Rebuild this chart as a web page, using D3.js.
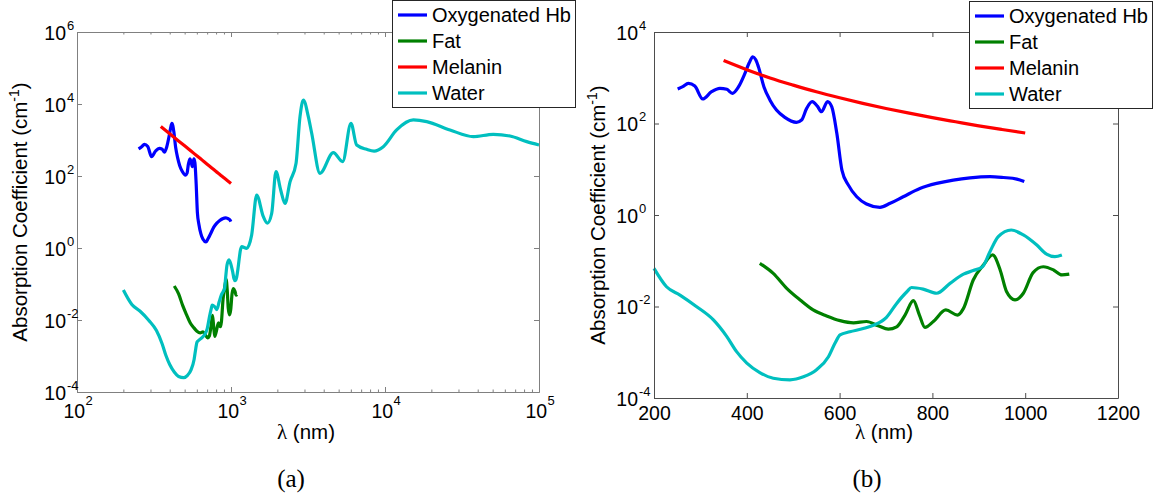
<!DOCTYPE html>
<html>
<head>
<meta charset="utf-8">
<script src="https://cdn.jsdelivr.net/npm/d3@7"></script>
<style>
  html, body { margin: 0; padding: 0; background: #fff; }
  svg { display: block; }
</style>
</head>
<body>
<svg id="chart" width="1165" height="499" style="font-family: 'Liberation Sans', Arial, sans-serif;"></svg>
<script>
// ---------------- DATA ----------------
const seriesNames = ["Oxygenated Hb", "Fat", "Melanin", "Water"];
const seriesColors = ["#0000ff", "#008000", "#ff0000", "#00bfbf"];

const hbWavelength = [251, 262, 274, 288, 305, 324, 342, 357, 369, 382, 396, 405, 413, 419, 425, 437, 450, 464, 482, 507, 518, 529, 541, 552, 561, 574, 583, 594, 605, 619, 637, 658, 687, 709, 737, 773, 809, 845, 881, 924, 953, 982, 998];
const hbAbsorption = [568, 640, 755, 660, 344, 495, 588, 558, 457, 631, 1250, 2100, 2880, 2500, 1740, 631, 324, 197, 136, 106, 119, 214, 300, 240, 181, 300, 233, 61, 9.6, 4.5, 2.5, 1.74, 1.47, 1.8, 2.5, 3.8, 4.9, 5.8, 6.5, 6.9, 6.6, 6.1, 5.4];

const fatWavelength = [428, 457, 486, 515, 543, 572, 601, 630, 658, 683, 705, 723, 741, 759, 772, 784, 802, 829, 854, 867, 888, 910, 930, 946, 960, 978, 996, 1017, 1039, 1061, 1079, 1095];
const fatAbsorption = [0.088, 0.053, 0.025, 0.0139, 0.0084, 0.0062, 0.0049, 0.0044, 0.0047, 0.0038, 0.0032, 0.0036, 0.0065, 0.0134, 0.0065, 0.0035, 0.0047, 0.0084, 0.0065, 0.0091, 0.038, 0.081, 0.134, 0.063, 0.021, 0.0139, 0.0195, 0.055, 0.074, 0.063, 0.049, 0.051];

const melaninWavelength = [350, 400, 450, 500, 550, 600, 650, 700, 750, 800, 850, 900, 950, 1000];
const melaninAbsorption = [2380, 1500, 990, 690, 493, 365, 276, 213, 168, 134, 109, 89, 74, 62];

const waterWavelength = [200, 227, 256, 292, 328, 357, 378, 400, 428, 457, 493, 522, 551, 576, 590, 601, 622, 651, 673, 701, 723, 745, 755, 780, 809, 838, 867, 888, 908, 924, 942, 970, 996, 1025, 1046, 1064, 1079,
  1172, 1265, 1362, 1468, 1622, 1722, 1837, 1959, 2102, 2244, 2417, 2643, 2806, 2950, 3177, 3342, 3784, 4620, 5309, 6012, 6546, 7600, 8500, 9750, 11900, 15280, 18660, 26430, 37450, 50470, 64830, 83250, 100000];
const waterAbsorption = [0.068, 0.027, 0.0178, 0.0099, 0.0051, 0.0022, 0.00103, 0.00058, 0.00036, 0.00027, 0.00025, 0.00029, 0.00042, 0.0008, 0.00157, 0.0024, 0.0028, 0.0033, 0.0039, 0.0058, 0.0117, 0.021, 0.026, 0.024, 0.0195, 0.032, 0.051, 0.061, 0.074, 0.158, 0.336, 0.47, 0.366, 0.22, 0.14, 0.123, 0.134,
  1.09, 0.98, 2.3, 29.5, 7.4, 4.9, 9.1, 132, 41, 17.4, 69, 224, 4470, 12900, 4470, 1535, 119, 445, 251, 2910, 726, 550, 490, 652, 1900, 3600, 3240, 1900, 1240, 1440, 1290, 900, 726];

// tick values
const leftXMajorTicks = [1e2, 1e3, 1e4, 1e5];
const leftXMinorTicks = [2,3,4,5,6,7,8,9].flatMap(m => [1e2, 1e3, 1e4].map(d => m * d));
const leftYTicks = [1e-4, 1e-2, 1e0, 1e2, 1e4, 1e6];
const rightXTicks = [200, 400, 600, 800, 1000, 1200];
const rightYTicks = [1e-4, 1e-2, 1e0, 1e2, 1e4];
const rightWaterMaxWavelength = 1080;

// ---------------- DRAWING ----------------
const SANS = "'Liberation Sans', Arial, sans-serif";
const SERIF = "'Liberation Serif', 'Times New Roman', serif";
const svg = d3.select("#chart");
svg.append("rect").attr("width", 1165).attr("height", 499).attr("fill", "#fff");

const seriesData = [
  d3.zip(hbWavelength, hbAbsorption),
  d3.zip(fatWavelength, fatAbsorption),
  d3.zip(melaninWavelength, melaninAbsorption),
  d3.zip(waterWavelength, waterAbsorption)
];

function txt(parent) {
  return parent.append("text").style("font-family", SANS).attr("fill", "#000");
}

function drawPanel(cfg) {
  const g = svg.append("g");
  const x = cfg.x, y = cfg.y;
  const [xLeft, xRight] = x.range();
  const [yBottom, yTop] = y.range();

  const line = d3.line().x(d => x(d[0])).y(d => y(d[1])).curve(d3.curveMonotoneX);
  seriesData.forEach((data, i) => {
    const pts = data.filter(d => d[0] >= x.domain()[0] && d[0] <= cfg.maxX[i]);
    g.append("path")
      .attr("d", line(pts))
      .attr("fill", "none")
      .attr("stroke", seriesColors[i])
      .attr("stroke-width", 3.2)
      .attr("stroke-linejoin", "round")
      .attr("stroke-linecap", "butt");
  });

  const styleAxis = sel => {
    sel.select(".domain").attr("stroke", cfg.axisColor);
    sel.selectAll(".tick line").attr("stroke", cfg.axisColor);
    sel.selectAll(".tick text").remove();
  };

  const bottom = g.append("g").attr("transform", `translate(0,${yBottom})`)
    .call(d3.axisBottom(x).tickValues(cfg.xTicks).tickSizeInner(-5).tickSizeOuter(0).tickFormat(() => ""));
  styleAxis(bottom);
  const top = g.append("g").attr("transform", `translate(0,${yTop})`)
    .call(d3.axisTop(x).tickValues(cfg.xTicks).tickSizeInner(-5).tickSizeOuter(0).tickFormat(() => ""));
  styleAxis(top);
  if (cfg.xMinor) {
    const bm = g.append("g").attr("transform", `translate(0,${yBottom})`)
      .call(d3.axisBottom(x).tickValues(cfg.xMinor).tickSizeInner(-2.5).tickSizeOuter(0).tickFormat(() => ""));
    styleAxis(bm);
    const tm = g.append("g").attr("transform", `translate(0,${yTop})`)
      .call(d3.axisTop(x).tickValues(cfg.xMinor).tickSizeInner(-2.5).tickSizeOuter(0).tickFormat(() => ""));
    styleAxis(tm);
  }
  const left = g.append("g").attr("transform", `translate(${xLeft},0)`)
    .call(d3.axisLeft(y).tickValues(cfg.yTicks).tickSizeInner(-5).tickSizeOuter(0).tickFormat(() => ""));
  styleAxis(left);
  const right = g.append("g").attr("transform", `translate(${xRight},0)`)
    .call(d3.axisRight(y).tickValues(cfg.yTicks).tickSizeInner(-5).tickSizeOuter(0).tickFormat(() => ""));
  styleAxis(right);

  bottom.selectAll(".tick").each(function(v) {
    const t = d3.select(this);
    if (cfg.xLog) {
      const e = Math.round(Math.log10(v));
      txt(t).attr("x", -14).attr("y", 26).attr("font-size", 19.5).attr("text-anchor", "start").text("10");
      txt(t).attr("x", 8).attr("y", 13).attr("font-size", 13).attr("text-anchor", "start").text(e);
    } else {
      txt(t).attr("x", 0).attr("y", 22).attr("font-size", 19.5).attr("text-anchor", "middle").text(v);
    }
  });
  left.selectAll(".tick").each(function(v) {
    const t = d3.select(this);
    const e = Math.round(Math.log10(v));
    txt(t).attr("x", -cfg.yGap).attr("y", 7).attr("font-size", 19.5).attr("text-anchor", "end").text("10");
    txt(t).attr("x", -cfg.yGap + 1).attr("y", -3).attr("font-size", 13).attr("text-anchor", "start").text(e);
  });

  const xt = txt(g).attr("x", cfg.xTitleX).attr("y", 439).attr("font-size", 20.5).attr("text-anchor", "middle");
  xt.append("tspan").style("font-family", SERIF).attr("font-size", 21).text("λ");
  xt.append("tspan").text(" (nm)");

  const yt = txt(g)
    .attr("transform", `translate(${cfg.yTitleX},${(yBottom + yTop) / 2}) rotate(-90)`)
    .attr("font-size", 20.5).attr("text-anchor", "middle");
  yt.append("tspan").text("Absorption Coefficient (cm");
  yt.append("tspan").attr("font-size", 14).attr("dy", -8).text("-1");
  yt.append("tspan").attr("dy", 8).text(")");

  svg.append("text").style("font-family", SERIF).attr("x", cfg.captionX).attr("y", 487)
    .attr("font-size", 25).attr("text-anchor", "middle").text(cfg.caption);

  const lg = svg.append("g").attr("transform", `translate(${cfg.legendX},${cfg.legendY})`);
  lg.append("rect").attr("x", 0.5).attr("y", 0.5).attr("width", 183).attr("height", 107)
    .attr("fill", "#fff").attr("stroke", "#262626").attr("stroke-width", 1);
  seriesNames.forEach((name, i) => {
    const ry = 15 + i * 26;
    lg.append("line").attr("x1", 6).attr("x2", 35).attr("y1", ry).attr("y2", ry)
      .attr("stroke", seriesColors[i]).attr("stroke-width", 3.2);
    txt(lg).attr("x", 40).attr("y", ry + 7).attr("font-size", 20).text(name);
  });
}

drawPanel({
  x: d3.scaleLog().domain([1e2, 1e5]).range([77, 539]),
  y: d3.scaleLog().domain([1e-4, 1e6]).range([392, 32]),
  xLog: true,
  xTicks: leftXMajorTicks,
  xMinor: leftXMinorTicks,
  yTicks: leftYTicks,
  yGap: 11,
  maxX: [Infinity, Infinity, Infinity, Infinity],
  axisColor: "#808080",
  xTitleX: 306,
  yTitleX: 27,
  caption: "(a)",
  captionX: 291,
  legendX: 392,
  legendY: 0
});

drawPanel({
  x: d3.scaleLinear().domain([200, 1200]).range([654, 1118]),
  y: d3.scaleLog().domain([1e-4, 1e4]).range([398, 32]),
  xLog: false,
  xTicks: rightXTicks,
  xMinor: null,
  yTicks: rightYTicks,
  yGap: 16,
  maxX: [Infinity, Infinity, Infinity, rightWaterMaxWavelength],
  axisColor: "#4d4d4d",
  xTitleX: 884,
  yTitleX: 605,
  caption: "(b)",
  captionX: 867,
  legendX: 969,
  legendY: 1
});
</script>
</body>
</html>
